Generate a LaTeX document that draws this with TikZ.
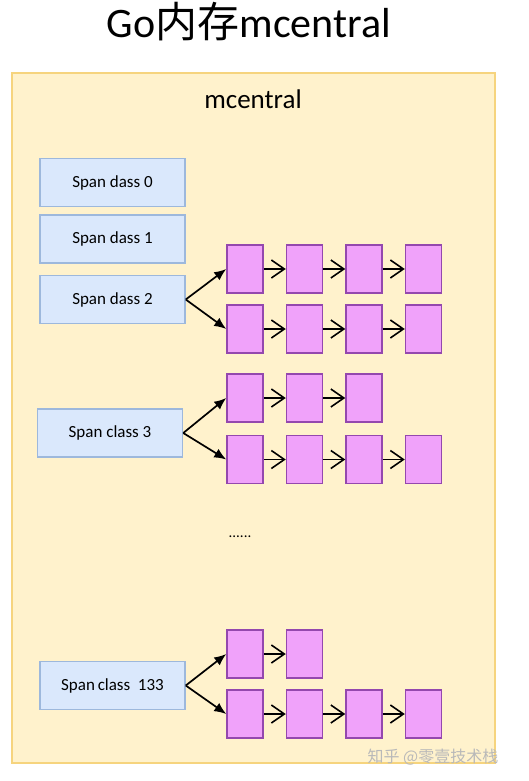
\documentclass[tikz,border=0pt]{standalone}
\usepackage{fontspec}
\setmainfont{Carlito}
\newfontfamily\cjk{Noto Sans CJK SC}
\usetikzlibrary{arrows.meta, positioning}
\definecolor{yfill}{HTML}{FFF2CC}
\definecolor{yline}{HTML}{F6D47E}
\definecolor{spanfill}{HTML}{DAE8FC}
\definecolor{spanline}{HTML}{9DB8DC}
\definecolor{mfill}{HTML}{F0A2FA}
\definecolor{mline}{HTML}{9448AE}

\begin{document}
\begin{tikzpicture}[x=1pt, y=-1pt, node distance=22pt,
	spanbox/.style={draw=spanline, fill=spanfill, line width=1.5pt, minimum width=145pt, minimum height=48pt, inner sep=0pt, font=\fontsize{17}{20}\selectfont},
	mspan/.style={draw=mline, fill=mfill, line width=1.5pt, minimum width=36pt, minimum height=48pt, inner sep=0pt},
	nextspan/.style={draw, line width=1.6pt, arrows={-Straight Barb[length=13pt, width=18pt]}},
	fork/.style={draw, line width=1.7pt, arrows={-Latex[length=12pt, width=10pt]}}]
			\useasboundingbox (0,0) rectangle (529,781);
			\node[draw=yline, fill=yfill, line width=1.5pt, minimum width=483pt, minimum height=690pt] (central) at (253.5,418) {};
			\node[anchor=base, font=\fontsize{42}{46}\selectfont] (title) at (249,38) {Go{\cjk 内存}mcentral};
			\node[anchor=base, font=\fontsize{27}{30}\selectfont] (label) at (253,109) {mcentral};
			% span classes
			\node[spanbox] (c0) at (112.5,182.5) {Span dass 0};
			\node[spanbox] (c1) at (112.5,239) {Span dass 1};
			\node[spanbox] (c2) at (112.5,299.5) {Span dass 2};
			\node[spanbox] (c3) at (110,433) {Span class 3};
			\node[spanbox] (c133) at (112.5,685.5) {Span\,class\ \ 133};
			\node[anchor=base, font=\fontsize{15}{17}\selectfont] (dots) at (240,537) {......};
			% span lists
			\node[mspan] (c2a1) at (245,269) {};
			\node[mspan] (c2a2) [right=of c2a1] {};
			\node[mspan] (c2a3) [right=of c2a2] {};
			\node[mspan] (c2a4) [right=of c2a3] {};
			\node[mspan] (c2b1) at (245,329) {};
			\node[mspan] (c2b2) [right=of c2b1] {};
			\node[mspan] (c2b3) [right=of c2b2] {};
			\node[mspan] (c2b4) [right=of c2b3] {};
			\node[mspan] (c3a1) at (245,398) {};
			\node[mspan] (c3a2) [right=of c3a1] {};
			\node[mspan] (c3a3) [right=of c3a2] {};
			\node[mspan] (c3b1) at (245,459.5) {};
			\node[mspan] (c3b2) [right=of c3b1] {};
			\node[mspan] (c3b3) [right=of c3b2] {};
			\node[mspan] (c3b4) [right=of c3b3] {};
			\node[mspan] (c133a1) at (245,654) {};
			\node[mspan] (c133a2) [right=of c133a1] {};
			\node[mspan] (c133b1) at (245,714) {};
			\node[mspan] (c133b2) [right=of c133b1] {};
			\node[mspan] (c133b3) [right=of c133b2] {};
			\node[mspan] (c133b4) [right=of c133b3] {};
			\path
			(c2.east) edge[fork] (c2a1.west)
			(c2.east) edge[fork] (c2b1.west)
			(c3.east) edge[fork] (c3a1.west)
			(c3.east) edge[fork] (c3b1.west)
			(c133.east) edge[fork] (c133a1.west)
			(c133.east) edge[fork] (c133b1.west)
			;
			\path
			(c2a1) edge[nextspan] (c2a2) (c2a2) edge[nextspan] (c2a3) (c2a3) edge[nextspan] (c2a4)
			(c2b1) edge[nextspan] (c2b2) (c2b2) edge[nextspan] (c2b3) (c2b3) edge[nextspan] (c2b4)
			(c3a1) edge[nextspan] (c3a2) (c3a2) edge[nextspan] (c3a3)
			(c3b1) edge[nextspan] (c3b2) (c3b2) edge[nextspan] (c3b3) (c3b3) edge[nextspan] (c3b4)
			(c133a1) edge[nextspan] (c133a2)
			(c133b1) edge[nextspan] (c133b2) (c133b2) edge[nextspan] (c133b3) (c133b3) edge[nextspan] (c133b4)
			;
			\node[text=gray!55, font=\cjk\fontsize{16}{18}\selectfont] (mark) at (433,757) {知乎 @零壹技术栈};
		\end{tikzpicture}
\end{document}
